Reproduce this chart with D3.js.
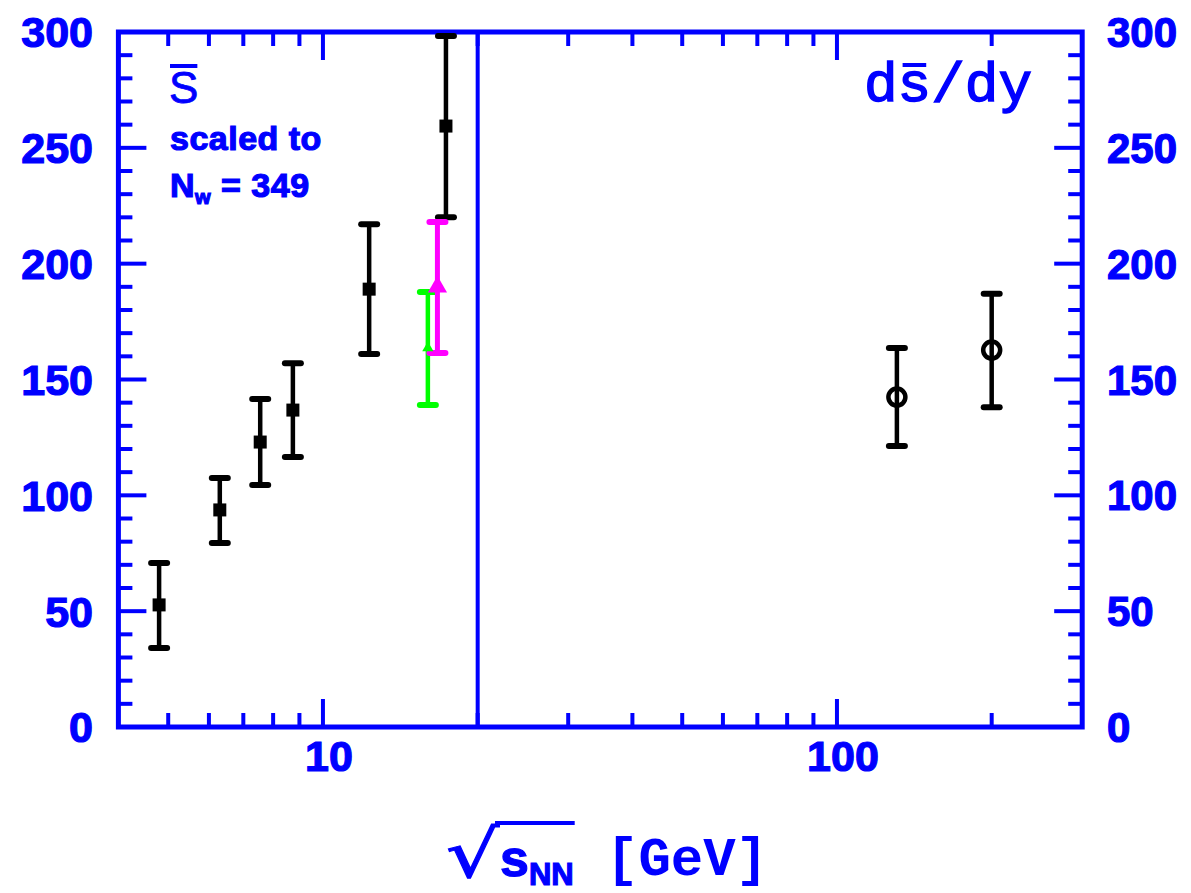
<!DOCTYPE html>
<html>
<head>
<meta charset="utf-8">
<script src="https://cdn.jsdelivr.net/npm/d3@7"></script>
<style>
  body { margin: 0; background: #fff; }
</style>
</head>
<body>
<script>
// sqrt(s_NN) values and strangeness yields
const blackX  = [4.80, 6.30, 7.55, 8.74, 12.3, 17.35]
const blackY  = [52.7, 93.7, 123.0, 136.8, 189.0, 259.4]
const blackLo = [34.1, 79.4, 104.5, 116.5, 161.0, 220.0]
const blackHi = [70.8, 107.5, 141.6, 157.0, 217.0, 298.3]

const greenX  = [16.0]
const greenY  = [163.6]
const greenLo = [139.0]
const greenHi = [187.8]

const magentaX  = [16.7]
const magentaY  = [190.0]
const magentaLo = [161.4]
const magentaHi = [218.0]

const rhicX  = [130.8, 200.0]
const rhicY  = [142.4, 162.7]
const rhicLo = [121.3, 138.0]
const rhicHi = [163.6, 187.0]

const yMajor = [0, 50, 100, 150, 200, 250, 300]
const xMajor = [10, 100]
const xMinor = [5, 6, 7, 8, 9, 20, 30, 40, 50, 60, 70, 80, 90, 200]
const divideAt = 20

const BLUE = "#0000ff"
const W = 1191, H = 893
const pLeft = 118.4, pRight = 1082.2, pTop = 32, pBottom = 727

const x = d3.scaleLog().domain([4, 300]).range([pLeft, pRight])
const y = d3.scaleLinear().domain([0, 300]).range([pBottom, pTop])

const svg = d3.select("body").append("svg")
    .attr("width", W)
    .attr("height", H)

// ticks (inward, on all four sides)
const yMinor = d3.range(0, 301, 10).filter(v => v % 50 !== 0)
const tk = svg.append("g").attr("stroke", BLUE).attr("stroke-width", 4)
function yTicks(vals, len) {
    tk.selectAll(null).data(vals).join("line")
        .attr("x1", pLeft).attr("x2", pLeft + len)
        .attr("y1", d => y(d)).attr("y2", d => y(d))
    tk.selectAll(null).data(vals).join("line")
        .attr("x1", pRight).attr("x2", pRight - len)
        .attr("y1", d => y(d)).attr("y2", d => y(d))
}
function xTicks(vals, len) {
    tk.selectAll(null).data(vals).join("line")
        .attr("x1", d => x(d)).attr("x2", d => x(d))
        .attr("y1", pBottom).attr("y2", pBottom - len)
    tk.selectAll(null).data(vals).join("line")
        .attr("x1", d => x(d)).attr("x2", d => x(d))
        .attr("y1", pTop).attr("y2", pTop + len)
}
yTicks(yMinor, 14)
yTicks(yMajor, 28)
xTicks(xMinor, 14)
xTicks(xMajor, 28)

// frame + divider
svg.append("rect")
    .attr("x", pLeft).attr("y", pTop)
    .attr("width", pRight - pLeft).attr("height", pBottom - pTop)
    .attr("fill", "none").attr("stroke", BLUE).attr("stroke-width", 5)
svg.append("line")
    .attr("x1", x(divideAt)).attr("x2", x(divideAt))
    .attr("y1", pTop).attr("y2", pBottom)
    .attr("stroke", BLUE).attr("stroke-width", 4)

// tick labels
const labFont = "'Liberation Sans', Arial, sans-serif"
function boldText(sel, size) {
    return sel.attr("font-family", labFont).attr("font-weight", "bold")
        .attr("font-size", size).attr("fill", BLUE)
        .attr("stroke", BLUE).attr("stroke-width", 1.2)
}
svg.append("g").selectAll("text").data(yMajor).join("text")
    .attr("x", 93).attr("y", d => y(d)).attr("dy", "0.36em")
    .attr("text-anchor", "end")
    .call(boldText, 43)
    .text(d => d)
svg.append("g").selectAll("text").data(yMajor).join("text")
    .attr("x", 1107).attr("y", d => y(d)).attr("dy", "0.36em")
    .attr("text-anchor", "start")
    .call(boldText, 42)
    .text(d => d)
svg.append("g").selectAll("text").data(xMajor).join("text")
    .attr("x", d => x(d) + 6).attr("y", 771)
    .attr("text-anchor", "middle")
    .call(boldText, 43)
    .text(d => d)

// error bars + markers
function errBars(xs, ys, lo, hi, color, sw, capW) {
    const g = svg.append("g").attr("stroke", color).attr("stroke-linecap", "round")
    xs.forEach((xv, i) => {
        g.append("line").attr("stroke-width", sw)
            .attr("x1", x(xv)).attr("x2", x(xv))
            .attr("y1", y(lo[i])).attr("y2", y(hi[i]))
        g.append("line").attr("stroke-width", 6)
            .attr("x1", x(xv) - capW / 2).attr("x2", x(xv) + capW / 2)
            .attr("y1", y(lo[i])).attr("y2", y(lo[i]))
        g.append("line").attr("stroke-width", 6)
            .attr("x1", x(xv) - capW / 2).attr("x2", x(xv) + capW / 2)
            .attr("y1", y(hi[i])).attr("y2", y(hi[i]))
    })
}
errBars(blackX, blackY, blackLo, blackHi, "#000", 4.5, 16)
errBars(greenX, greenY, greenLo, greenHi, "#00ff00", 4.5, 16)
errBars(magentaX, magentaY, magentaLo, magentaHi, "#ff00ff", 5, 16)
errBars(rhicX, rhicY, rhicLo, rhicHi, "#000", 4.5, 16)

svg.append("g").selectAll("rect").data(d3.zip(blackX, blackY)).join("rect")
    .attr("x", d => x(d[0]) - 6.5).attr("y", d => y(d[1]) - 6.5)
    .attr("width", 13).attr("height", 13).attr("fill", "#000")

svg.append("g").selectAll("path").data(d3.zip(greenX, greenY)).join("path")
    .attr("transform", d => `translate(${x(d[0])},${y(d[1])})`)
    .attr("d", d3.symbol().type(d3.symbolTriangle).size(55))
    .attr("fill", "#00ff00")
svg.append("g").selectAll("path").data(d3.zip(magentaX, magentaY)).join("path")
    .attr("transform", d => `translate(${x(d[0])},${y(d[1])})`)
    .attr("d", d3.symbol().type(d3.symbolTriangle).size(160))
    .attr("fill", "#ff00ff")

svg.append("g").selectAll("circle").data(d3.zip(rhicX, rhicY)).join("circle")
    .attr("cx", d => x(d[0])).attr("cy", d => y(d[1])).attr("r", 8.5)
    .attr("fill", "#fff").attr("stroke", "#000").attr("stroke-width", 4.5)
svg.append("g").selectAll("line").data(d3.zip(rhicX, rhicY)).join("line")
    .attr("x1", d => x(d[0])).attr("x2", d => x(d[0]))
    .attr("y1", d => y(d[1]) - 9).attr("y2", d => y(d[1]) + 9)
    .attr("stroke", "#000").attr("stroke-width", 4.5)

// overbar drawn above one character of a text element
function overbar(textNode, idx, yy, pad) {
    const e = textNode.getExtentOfChar(idx)
    svg.append("line")
        .attr("x1", e.x + pad).attr("x2", e.x + e.width - pad)
        .attr("y1", yy).attr("y2", yy)
        .attr("stroke", BLUE).attr("stroke-width", 4)
}

// in-plot labels
const mono = "'Liberation Mono', 'Courier New', monospace"
const sBar = svg.append("text")
    .attr("x", 169).attr("y", 103)
    .attr("font-family", labFont).attr("font-size", 44).attr("fill", BLUE)
    .attr("stroke", BLUE).attr("stroke-width", 0.8)
    .text("S")
overbar(sBar.node(), 0, 66, 1)
svg.append("text")
    .attr("x", 170).attr("y", 150)
    .call(boldText, 34)
    .attr("letter-spacing", 0.5)
    .text("scaled to")
const nw = svg.append("text")
    .attr("x", 170).attr("y", 197)
    .call(boldText, 34)
    .attr("letter-spacing", 0.5)
nw.append("tspan").text("N")
nw.append("tspan").attr("font-size", 20).attr("dy", 7).text("w")
nw.append("tspan").attr("dy", -7).text(" = 349")

const dsdy = svg.append("text")
    .attr("x", 864).attr("y", 101)
    .attr("font-family", mono).attr("font-size", 56).attr("fill", BLUE)
    .attr("stroke", BLUE).attr("stroke-width", 1.5)
    .text("ds/dy")
overbar(dsdy.node(), 1, 65, 5)

// axis title
const title = svg.append("g")
title.append("text")
    .attr("transform", "translate(446,877) scale(1.35,1.05)")
    .attr("font-family", "'DejaVu Sans', sans-serif").attr("font-size", 62)
    .attr("fill", BLUE).attr("stroke", BLUE).attr("stroke-width", 1)
    .text("√")
const sTxt = title.append("text")
    .attr("x", 500).attr("y", 876)
    .call(boldText, 52)
sTxt.append("tspan").text("s")
sTxt.append("tspan").attr("font-size", 31).attr("dy", 9).text("NN")
const sBox = sTxt.node().getBBox()
title.append("line")
    .attr("x1", 495).attr("x2", sBox.x + sBox.width + 1)
    .attr("y1", 823).attr("y2", 823)
    .attr("stroke", BLUE).attr("stroke-width", 4)
title.append("text")
    .attr("x", 606).attr("y", 875)
    .attr("font-family", mono).attr("font-weight", "bold")
    .attr("font-size", 54).attr("fill", BLUE)
    .text("[GeV]")
</script>
</body>
</html>
